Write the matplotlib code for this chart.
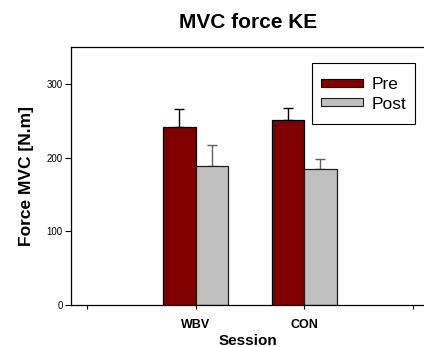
import matplotlib
matplotlib.use("Agg")
import matplotlib.pyplot as plt
from matplotlib.patches import Patch, Rectangle
import numpy as np

plt.rcParams['font.family'] = ['Liberation Sans', 'DejaVu Sans']

sessions = ["WBV", "CON"]
pre_vals = [241, 251]
pre_err = [25, 16]
post_vals = [189, 185]
post_err = [28, 13]

W, H = 424, 347
fig = plt.figure(figsize=(W/100, H/100), dpi=100)
ax = fig.add_axes([71/W, 1-305/H, 1-71/W, (305-47)/H])

x = np.array([1, 2])
bw = 0.3
ax.bar(x - bw/2, pre_vals, bw, color='#800000', edgecolor='black', linewidth=0.9, zorder=2)
ax.bar(x + bw/2, post_vals, bw, color='#c0c0c0', edgecolor='#202020', linewidth=0.9, zorder=2)
ax.errorbar(x - bw/2, pre_vals, yerr=[[0]*2, pre_err], fmt='none', ecolor='black',
            elinewidth=1, capsize=3.5, capthick=1, zorder=1)
ax.errorbar(x + bw/2, post_vals, yerr=[[0]*2, post_err], fmt='none', ecolor='#606060',
            elinewidth=1, capsize=3.5, capthick=1, zorder=1)

ax.set_xlim(-0.149, 3.104)
ax.set_ylim(0, 350)
ax.set_xticks([0, 1, 2, 3])
ax.set_xticklabels(["", "WBV", "CON", ""], fontsize=9, fontweight='bold')
ax.set_yticks([0, 100, 200, 300])
ax.tick_params(axis='y', labelsize=7, length=4, width=0.8, direction='out', pad=2)
ax.tick_params(axis='x', length=3, width=0.8, direction='out', pad=7)
ax.spines['right'].set_visible(False)
for s in ['left', 'bottom', 'top']:
    ax.spines[s].set_linewidth(0.9)

ax.set_xlabel("Session", fontsize=11, fontweight='bold', labelpad=2)
ax.set_ylabel("Force MVC [N.m]", fontsize=12.5, fontweight='bold', labelpad=9)
fig.text(248/W, 1-23/H, "MVC force KE", fontsize=15, fontweight='bold', ha='center', va='center')

handles = [Patch(facecolor='#800000', edgecolor='black', linewidth=0.8),
           Patch(facecolor='#c0c0c0', edgecolor='#202020', linewidth=0.8)]
leg = fig.legend(handles, ["Pre", "Post"], loc='upper left',
                 bbox_to_anchor=(320.5/W, 1-77/H), borderaxespad=0,
                 fontsize=12.5, handlelength=2.42, handleheight=0.3,
                 frameon=False, labelspacing=0.26, handletextpad=0.55,
                 borderpad=0)
fig.patches.append(Rectangle((312/W, 1-124/H), (415-312)/W, (124-63)/H,
                             transform=fig.transFigure, facecolor='none',
                             edgecolor='black', linewidth=0.8, zorder=5))

fig.savefig("out.png", dpi=100)
